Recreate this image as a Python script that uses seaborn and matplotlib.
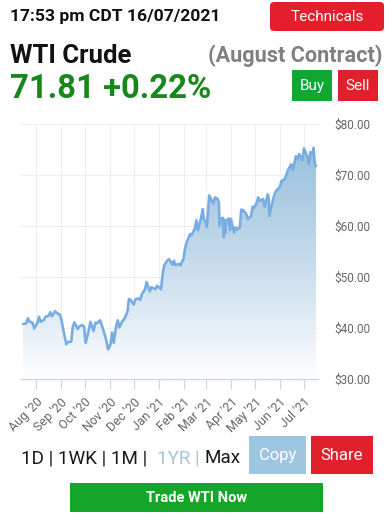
import matplotlib
matplotlib.use("Agg")
import matplotlib.pyplot as plt
import matplotlib.dates as mdates
from matplotlib.patches import FancyBboxPatch
from matplotlib.colors import to_rgb
import seaborn as sns
import pandas as pd
import numpy as np

# WTI crude, August contract, 1 year history
dates = [
    "2020-07-16", "2020-07-20", "2020-07-22", "2020-07-24", "2020-07-28", "2020-07-30",
    "2020-08-03", "2020-08-05", "2020-08-07", "2020-08-11", "2020-08-13", "2020-08-17",
    "2020-08-19", "2020-08-21", "2020-08-25", "2020-08-27", "2020-08-31", "2020-09-02",
    "2020-09-04", "2020-09-08", "2020-09-10", "2020-09-14", "2020-09-16", "2020-09-18",
    "2020-09-22", "2020-09-24", "2020-09-28", "2020-09-30", "2020-10-02", "2020-10-06",
    "2020-10-08", "2020-10-12", "2020-10-14", "2020-10-16", "2020-10-20", "2020-10-22",
    "2020-10-26", "2020-10-28", "2020-10-30", "2020-11-02", "2020-11-04", "2020-11-06",
    "2020-11-09", "2020-11-11", "2020-11-13", "2020-11-17", "2020-11-19", "2020-11-23",
    "2020-11-25", "2020-11-27", "2020-12-01", "2020-12-03", "2020-12-07", "2020-12-09",
    "2020-12-11", "2020-12-15", "2020-12-17", "2020-12-21", "2020-12-23", "2020-12-28",
    "2020-12-30", "2021-01-04", "2021-01-06", "2021-01-08", "2021-01-12", "2021-01-14",
    "2021-01-18", "2021-01-20", "2021-01-22", "2021-01-26", "2021-01-28", "2021-02-01",
    "2021-02-03", "2021-02-05", "2021-02-09", "2021-02-11", "2021-02-15", "2021-02-17",
    "2021-02-19", "2021-02-23", "2021-02-25", "2021-02-26", "2021-03-01", "2021-03-02",
    "2021-03-04", "2021-03-05", "2021-03-08", "2021-03-10", "2021-03-12", "2021-03-15",
    "2021-03-17", "2021-03-18", "2021-03-19", "2021-03-22", "2021-03-23", "2021-03-24",
    "2021-03-25", "2021-03-26", "2021-03-29", "2021-03-31", "2021-04-01", "2021-04-05",
    "2021-04-07", "2021-04-09", "2021-04-12", "2021-04-14", "2021-04-16", "2021-04-20",
    "2021-04-22", "2021-04-26", "2021-04-28", "2021-04-30", "2021-05-03", "2021-05-05",
    "2021-05-07", "2021-05-11", "2021-05-13", "2021-05-17", "2021-05-18", "2021-05-19",
    "2021-05-21", "2021-05-25", "2021-05-27", "2021-06-01", "2021-06-03", "2021-06-07",
    "2021-06-09", "2021-06-11", "2021-06-15", "2021-06-17", "2021-06-21", "2021-06-23",
    "2021-06-25", "2021-06-29", "2021-07-01", "2021-07-06", "2021-07-07", "2021-07-08",
    "2021-07-09", "2021-07-12", "2021-07-13", "2021-07-14", "2021-07-15", "2021-07-16",
]
prices = [
    40.8, 40.9, 41.9, 41.3, 41.0, 39.9,
    41.0, 42.2, 41.2, 41.6, 42.2, 42.4,
    43.1, 42.3, 43.3, 43.0, 42.6, 41.5,
    39.8, 36.8, 37.3, 37.3, 40.2, 41.1,
    39.8, 40.3, 40.6, 40.2, 37.1, 39.6,
    41.2, 39.4, 41.0, 40.9, 41.5, 40.6,
    38.6, 37.4, 35.8, 36.8, 39.1, 37.1,
    40.3, 41.5, 40.1, 41.4, 41.7, 43.1,
    45.7, 45.5, 44.6, 45.6, 45.8, 45.5,
    46.6, 47.6, 49.0, 47.2, 48.0, 47.6,
    48.3, 47.6, 50.6, 52.3, 53.3, 53.5,
    52.4, 53.2, 52.3, 52.6, 52.3, 53.6,
    55.7, 56.8, 58.4, 58.2, 59.5, 61.1,
    59.2, 61.7, 63.3, 61.5, 60.6, 59.8,
    63.8, 66.0, 65.0, 64.4, 65.6, 65.4,
    64.6, 60.0, 61.4, 61.6, 57.8, 61.2,
    58.6, 60.9, 61.5, 59.2, 61.4, 58.7,
    59.7, 59.3, 59.7, 63.2, 63.1, 62.4,
    61.4, 61.9, 63.8, 63.6, 64.5, 65.6,
    64.9, 65.3, 63.8, 66.2, 65.5, 62.0,
    63.6, 66.1, 66.8, 67.7, 68.8, 69.2,
    70.0, 70.9, 72.1, 71.0, 73.7, 73.1,
    74.1, 72.9, 75.2, 73.4, 72.2, 72.9,
    74.5, 74.1, 75.3, 73.1, 71.7, 71.8,
]
y_ticks = [30, 40, 50, 60, 70, 80]

df = pd.DataFrame({"date": pd.to_datetime(dates), "price": prices})

sns.set_style("white")
plt.rcParams["font.family"] = ["Roboto", "DejaVu Sans"]

W, H = 390, 517
fig = plt.figure(figsize=(W / 100, H / 100), dpi=100)


def fx(px):
    return px / W


def fy(py):
    return 1 - py / H


# chart area
ax = fig.add_axes([fx(21), fy(379), (318 - 21) / W, (379 - 124) / H])

# gradient fill under the line
poly = ax.fill_between(df["date"], df["price"], 30, color="none", lw=0)
top = np.array(to_rgb("#98bfdc"))
bot = np.array([1.0, 1.0, 1.0])
t = np.linspace(0, 1, 256)[:, None] ** 1.3
grad = top * (1 - t) + bot * t
x0 = mdates.date2num(df["date"].iloc[0])
x1 = mdates.date2num(df["date"].iloc[-1])
img = ax.imshow(grad[:, None, :], extent=[x0, x1, 30, 80], aspect="auto",
                origin="upper", zorder=1)
img.set_clip_path(poly.get_paths()[0], transform=ax.transData)

sns.lineplot(data=df, x="date", y="price", color="#78ade3", lw=1.9, ax=ax, zorder=3)

ax.set_xlim(pd.Timestamp("2020-07-13 12:00"), pd.Timestamp("2021-07-18 12:00"))
ax.set_ylim(30, 80)
ax.set_xlabel("")
ax.set_ylabel("")

ax.xaxis.set_major_locator(mdates.MonthLocator())
ax.xaxis.set_major_formatter(mdates.DateFormatter("%b '%y"))
ax.yaxis.tick_right()
ax.set_yticks(y_ticks)
ax.set_yticklabels([f"${v:.2f}" for v in y_ticks])
ax.tick_params(axis="y", length=0, pad=12, labelsize=8.5, labelcolor="#666666")
ax.tick_params(axis="x", length=7, color="#ccd6eb", width=0.8, labelsize=9,
               labelcolor="#666666", pad=5, bottom=True)
plt.setp(ax.get_xticklabels(), rotation=45, ha="right", rotation_mode="anchor")

ax.grid(True, color="#eeeeee", lw=0.8)
ax.set_axisbelow(True)
for s in ["top", "left", "right"]:
    ax.spines[s].set_visible(False)
ax.spines["bottom"].set_color("#ccd6eb")
ax.spines["bottom"].set_linewidth(1)


def button(x0p, y0p, x1p, y1p, color, label, size=10, weight="normal", r=0):
    box = FancyBboxPatch((fx(x0p), fy(y1p)), (x1p - x0p) / W, (y1p - y0p) / H,
                         boxstyle=f"round,pad=0,rounding_size={r / W}",
                         mutation_aspect=W / H, transform=fig.transFigure,
                         facecolor=color, edgecolor="none")
    fig.add_artist(box)
    fig.text(fx((x0p + x1p) / 2), fy((y0p + y1p) / 2 + 0.5), label, color="white",
             fontsize=size, fontweight=weight, ha="center", va="center")


# header
fig.text(fx(10), fy(21), "17:53 pm CDT 16/07/2021", fontsize=12.6,
         fontweight="bold", color="#111111", va="baseline")
button(270, 2, 384, 31, "#e41e2b", "Technicals", size=11, r=4)
fig.text(fx(10), fy(63), "WTI Crude", fontsize=18.5, fontweight="bold",
         color="#111111", va="baseline")
fig.text(fx(382), fy(62), "(August Contract)", fontsize=15.6, fontweight="bold",
         color="#808080", va="baseline", ha="right")
fig.text(fx(10), fy(98), "71.81 +0.22%", fontsize=23.7, fontweight="bold",
         color="#17891c", va="baseline")
button(292, 70, 332, 101, "#10a832", "Buy", size=11)
button(338, 70, 378, 101, "#e0202a", "Sell", size=11)

# footer
fig.text(fx(21), fy(463), "1D | 1WK | 1M |", fontsize=13.6, color="#1a1a1a", va="baseline")
fig.text(fx(157), fy(463), "1YR |", fontsize=13.6, color="#a9c4d8", va="baseline")
fig.text(fx(205), fy(463), "Max", fontsize=13.6, color="#1a1a1a", va="baseline")
button(249, 436, 306, 474, "#9ec6e0", "Copy", size=12)
button(311, 436, 373, 474, "#e0202a", "Share", size=12)
button(70, 483, 323, 512, "#15a629", "Trade WTI Now", size=10.5, weight="bold")

fig.savefig("out.png", dpi=100)
